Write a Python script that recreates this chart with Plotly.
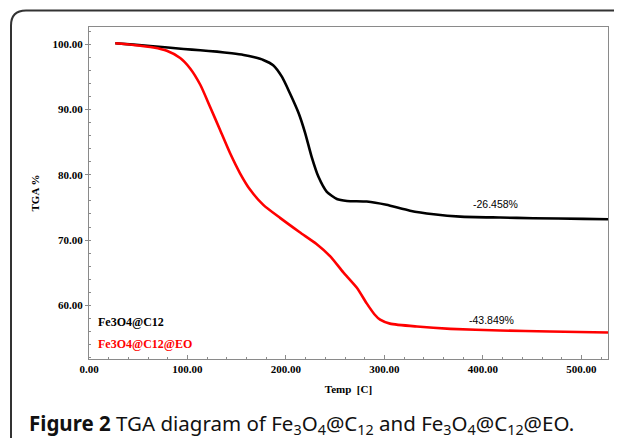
import plotly.graph_objects as go

# ---- data ----
temp_c12 = [26.7, 45, 62, 80, 96, 113, 130, 145, 157, 168, 177, 187, 196, 204, 213, 219.5, 226,
            233, 241.5, 251.7, 262, 282, 302, 326, 350, 377, 417.5, 451, 502, 527]
tga_c12 = [100.15, 99.95, 99.74, 99.5, 99.28, 99.08, 98.87, 98.62, 98.36, 98.0, 97.6, 96.8, 95.0,
           92.5, 89.4, 86.4, 82.8, 79.7, 77.4, 76.3, 76.0, 75.9, 75.4, 74.5, 73.96, 73.6, 73.45,
           73.35, 73.25, 73.2]

temp_eo = [26.7, 45, 65.5, 79, 92.6, 102.7, 113, 123, 133, 143.3, 153.5, 163.7, 177, 194, 214,
           231, 245, 258, 272, 282, 290, 295.6, 305.6, 333, 367, 417.5, 468, 527]
tga_eo = [100.15, 99.9, 99.5, 99.0, 97.9, 96.3, 93.8, 90.4, 86.9, 83.3, 80.2, 77.7, 75.4, 73.4,
          71.2, 69.4, 67.5, 65.1, 62.7, 60.3, 58.6, 57.8, 57.2, 56.75, 56.4, 56.15, 56.0, 55.85]

series_names = ["Fe3O4@C12", "Fe3O4@C12@EO"]
loss_labels = ["-26.458%", "-43.849%"]
x_ticks = [0, 100, 200, 300, 400, 500]
y_ticks = [60, 70, 80, 90, 100]

# ---- geometry (page pixels; the page body has an 8px margin) ----
OFF = 8
PAGE_W, PAGE_H = 622, 438
W, H = PAGE_W - OFF, PAGE_H - OFF
PL, PT, PR, PB = 89, 27, 608, 359          # plot box in page pixels
L, T = PL - OFF, PT - OFF
R, B = W - (PR - OFF), H - (PB - OFF)
PW, PH = PR - PL, PB - PT


def px(x):
    return (x - PL) / PW


def py(y):
    return (PB - y) / PH


serif = "Liberation Serif"
fig = go.Figure()
fig.add_trace(go.Scatter(x=temp_c12, y=tga_c12, mode="lines", name=series_names[0],
                         line=dict(color="#000000", width=2.6, shape="spline", smoothing=0.6)))
fig.add_trace(go.Scatter(x=temp_eo, y=tga_eo, mode="lines", name=series_names[1],
                         line=dict(color="#ff0000", width=2.6, shape="spline", smoothing=0.6)))

axis_common = dict(showline=True, linecolor="#8a8a8a", linewidth=1, mirror=True,
                   showgrid=False, zeroline=False,
                   tickfont=dict(family=serif, size=11, color="#000", weight="bold"),
                   title_font=dict(family=serif, size=11, color="#000"))

fig.update_xaxes(range=[0, 527], tickvals=x_ticks, ticktext=[f"{v:.2f}" for v in x_ticks],
                 ticks="inside", ticklen=4, tickcolor="#8a8a8a",
                 minor=dict(dtick=20, ticks="inside", ticklen=2, tickcolor="#8a8a8a"),
                 title=dict(text="<b>Temp  [C]</b>", standoff=11), **axis_common)
fig.update_yaxes(range=[51.78, 102.65], tickvals=y_ticks, ticktext=[f"{v:.2f}" for v in y_ticks],
                 ticks="outside", ticklen=3, tickcolor="#8a8a8a",
                 minor=dict(dtick=2, ticks="inside", ticklen=2, tickcolor="#8a8a8a"),
                 title=dict(text="<b>TGA %</b>", standoff=10), **axis_common)

annotations = [
    dict(x=px(96), y=py(322), xref="paper", yref="paper", xanchor="left", yanchor="middle",
         text="<b>" + series_names[0] + "</b>", showarrow=False,
         font=dict(family=serif, size=12, color="#000")),
    dict(x=px(96), y=py(344), xref="paper", yref="paper", xanchor="left", yanchor="middle",
         text="<b>" + series_names[1] + "</b>", showarrow=False,
         font=dict(family=serif, size=12, color="#ff0000")),
    dict(x=px(495.5), y=py(204), xref="paper", yref="paper", xanchor="center", yanchor="middle",
         text=loss_labels[0], showarrow=False,
         font=dict(family="Liberation Sans", size=10.5, color="#000")),
    dict(x=px(491), y=py(319.5), xref="paper", yref="paper", xanchor="center", yanchor="middle",
         text=loss_labels[1], showarrow=False,
         font=dict(family="Liberation Sans", size=10.5, color="#000")),
    dict(x=px(27), y=py(424), xref="paper", yref="paper", xanchor="left", yanchor="middle",
         text="<b>Figure 2</b> TGA diagram of Fe<sub>3</sub>O<sub>4</sub>@C<sub>12</sub> and "
              "Fe<sub>3</sub>O<sub>4</sub>@C<sub>12</sub>@EO.",
         showarrow=False, font=dict(family="Noto Sans", size=20.5, color="#111")),
]

# outer rounded frame (top & left edges)
fl, ft, rad = 11, 10.5, 15
path = (f"M {px(fl)} {py(PAGE_H + 10)} L {px(fl)} {py(ft + rad)} "
        f"Q {px(fl)} {py(ft)} {px(fl + rad)} {py(ft)} L {px(PAGE_W + 10)} {py(ft)}")
shapes = [dict(type="path", xref="paper", yref="paper", path=path,
               line=dict(color="#333333", width=2))]

fig.update_layout(width=W, height=H, autosize=False,
                  margin=dict(l=L, r=R, t=T, b=B),
                  paper_bgcolor="white", plot_bgcolor="white",
                  showlegend=False, annotations=annotations, shapes=shapes)

fig.write_html("out.html")
